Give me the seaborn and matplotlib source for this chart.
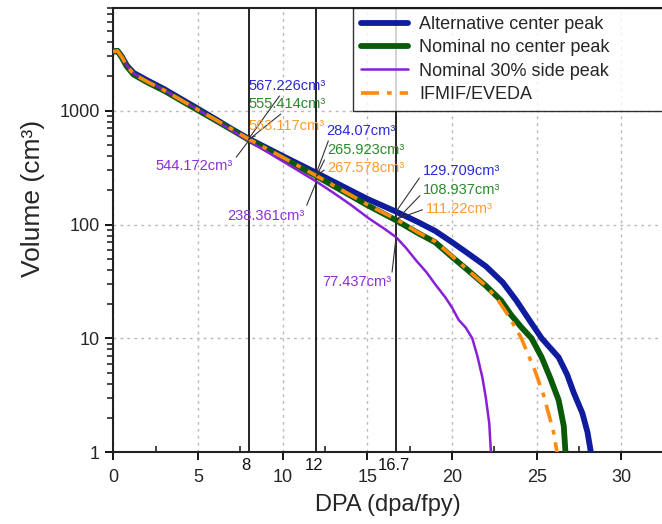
import matplotlib
matplotlib.use("Agg")
import matplotlib.pyplot as plt
from matplotlib.ticker import MultipleLocator, LogLocator, NullFormatter, FixedLocator
import numpy as np
import pandas as pd
import seaborn as sns

# curvas (DPA x volume acumulado)
dpa_alt = [0, 0.25, 0.5, 0.8, 1.2, 2, 3, 4, 5, 6, 7, 8, 10, 12, 14, 15, 16.7, 18, 19, 20, 21, 22, 23,
           23.8, 24.5, 25.3, 26.3, 26.8, 27.2, 27.7, 28.0, 28.2]
vol_alt = [3300, 3350, 3000, 2500, 2150, 1850, 1550, 1270, 1040, 850, 690, 567.226, 400, 284.07, 200,
           168, 129.709, 105, 88, 70, 55, 43, 31, 21.5, 15, 10, 6.8, 4.8, 3.3, 2.2, 1.5, 1]

dpa_nom = [0, 0.25, 0.5, 0.8, 1.2, 2, 3, 4, 5, 6, 7, 8, 10, 12, 14, 15, 16.7, 18, 19, 20, 21, 22,
           22.9, 23.5, 24.1, 24.7, 25.3, 25.8, 26.3, 26.6, 26.7]
vol_nom = [3300, 3350, 2950, 2450, 2080, 1780, 1500, 1230, 1010, 830, 680, 555.414, 385, 265.923, 180,
           148, 108.937, 84, 70, 52, 39, 29, 21.5, 16, 12.5, 10, 6.8, 4.5, 2.86, 1.7, 1]

dpa_side = [0, 0.25, 0.5, 0.8, 1.2, 2, 3, 4, 5, 6, 7, 8, 10, 12, 13, 14, 15.1, 16, 16.7, 17.3, 17.9,
            18.5, 19.0, 19.6, 20.0, 20.4, 20.8, 21.2, 21.5, 21.8, 22.0, 22.2, 22.3]
vol_side = [3300, 3350, 3000, 2500, 2120, 1820, 1520, 1250, 1020, 830, 670, 544.172, 360, 238.361, 190,
            150, 113, 92, 77.437, 62, 48, 38, 30, 23, 18.7, 14.5, 12.5, 10, 7, 4.5, 3, 1.8, 1]

dpa_ifm = [0, 0.25, 0.5, 0.8, 1.2, 2, 3, 4, 5, 6, 7, 8, 10, 12, 14, 15, 16.7, 18, 19, 20, 21, 22,
           22.6, 23.4, 24.1, 24.9, 25.4, 25.7, 26.0, 26.2]
vol_ifm = [3300, 3350, 2980, 2480, 2100, 1800, 1510, 1240, 1020, 840, 690, 563.117, 390, 267.578, 182,
           150, 111.22, 85, 71, 53, 39, 29, 23, 15.3, 10, 5.2, 3.2, 2.2, 1.5, 1]

series = [
    ("Alternative center peak", dpa_alt, vol_alt, "#101c9e", 4.2, "-"),
    ("Nominal no center peak", dpa_nom, vol_nom, "#0a5a0a", 4.2, "-"),
    ("Nominal 30% side peak", dpa_side, vol_side, "#8a1fd6", 1.8, "-"),
    ("IFMIF/EVEDA", dpa_ifm, vol_ifm, "#ff8a10", 2.6, (0, (5, 2.2, 1.3, 2.2))),
]

# rótulos dos volumes nas linhas de corte (texto, x, y do texto, ponto, cor, alinhamento, relpos)
rotulos = [
    ("567.226cm³", 7.96, 1656, 8, 567.226, "#2a2ad6", "left", (0.45, 0.1)),
    ("555.414cm³", 7.96, 1151, 8, 555.414, "#2b8a2b", "left", (0.5, 0.1)),
    ("563.117cm³", 7.96, 738, 8, 563.117, "#ff9a2e", "left", (0.3, 0.3)),
    ("544.172cm³", 7.07, 329, 8, 544.172, "#8c2fd4", "right", (1.0, 0.8)),
    ("284.07cm³", 12.6, 668, 12, 284.07, "#2a2ad6", "left", (0.05, 0.1)),
    ("265.923cm³", 12.65, 455, 12, 265.923, "#2b8a2b", "left", (0.0, 0.2)),
    ("267.578cm³", 12.65, 316, 12, 267.578, "#ff9a2e", "left", (0.0, 0.5)),
    ("238.361cm³", 11.31, 120, 12, 238.361, "#8c2fd4", "right", (1.0, 0.9)),
    ("129.709cm³", 18.27, 298, 16.7, 129.709, "#2a2ad6", "left", (0.0, 0.3)),
    ("108.937cm³", 18.3, 203, 16.7, 108.937, "#2b8a2b", "left", (0.0, 0.3)),
    ("111.22cm³", 18.45, 138, 16.7, 111.22, "#ff9a2e", "left", (0.0, 0.5)),
    ("77.437cm³", 16.44, 31, 16.7, 77.437, "#8c2fd4", "right", (1.0, 1.0)),
]

cortes = [8, 12, 16.7]

sns.set_theme(style="ticks")
plt.rcParams["font.family"] = ["Liberation Sans", "DejaVu Sans"]

fig = plt.figure(figsize=(6.62, 5.24), dpi=100)
ax = fig.add_axes([0.171, 0.137, 0.829, 0.848])

for nome, x, y, cor, lw, ls in series:
    df = pd.DataFrame({"dpa": x, "vol": y})
    sns.lineplot(data=df, x="dpa", y="vol", ax=ax, color=cor, lw=lw, linestyle=ls,
                 label=nome, sort=False, estimator=None, zorder=3)

for c in cortes:
    ax.axvline(c, color="black", lw=1.2, zorder=2)

ax.set_yscale("log")
ax.set_xlim(0, 32.4)
ax.set_ylim(1, 8000)

ax.xaxis.set_major_locator(MultipleLocator(5))
ax.xaxis.set_minor_locator(FixedLocator(np.arange(2.5, 32.5, 5)))
ax.yaxis.set_minor_locator(LogLocator(base=10, subs=np.arange(2, 10), numticks=10))
ax.yaxis.set_minor_formatter(NullFormatter())
ax.set_yticks([1, 10, 100, 1000])
ax.set_yticklabels(["1", "10", "100", "1000"])

ax.tick_params(axis="both", which="major", labelsize=13, width=1.3, length=6, direction="out", color="black")
ax.tick_params(axis="x", which="minor", width=1.2, length=4, direction="in")
ax.tick_params(axis="y", which="minor", width=1.2, length=4, direction="out")
ax.tick_params(axis="x", which="major", pad=6)

ax.grid(True, which="major", color="#b8b8b8", linestyle=(0, (2, 3)), lw=1.0, zorder=0)
ax.set_axisbelow(True)

for s in ["left", "bottom", "top"]:
    ax.spines[s].set_linewidth(1.5)
    ax.spines[s].set_color("#222222")
ax.spines["right"].set_visible(False)

# rótulos dos cortes logo abaixo do eixo
for c in cortes:
    ax.text(c - 0.15, -0.012, f"{c:g}", transform=ax.get_xaxis_transform(), ha="center", va="top",
            fontsize=12, color="#111111")

for txt, tx, ty, px, py, cor, ha, rp in rotulos:
    ax.annotate(txt, xy=(px, py), xytext=(tx, ty), ha=ha, va="center", fontsize=10.5, color=cor,
                arrowprops=dict(arrowstyle="-", color="#333333", lw=0.8, shrinkA=0, shrinkB=0,
                                relpos=rp), zorder=5)

ax.set_xlabel("DPA (dpa/fpy)", fontsize=17, labelpad=6)
ax.set_ylabel("Volume (cm³)", fontsize=19)
ax.yaxis.set_label_coords(-0.125, 0.57)

# legenda estendida até a borda direita, como no original
leg = ax.legend(loc="upper left", bbox_to_anchor=(0.437, 0.0, 0.6, 1.0), mode="expand", fontsize=13,
                frameon=True, fancybox=False, edgecolor="black", handlelength=2.6, handletextpad=0.6,
                borderaxespad=0, labelspacing=0.35, borderpad=0.45)
leg.get_frame().set_linewidth(1.0)
leg.set_zorder(6)

fig.savefig("out.png", dpi=100)
plt.close(fig)
